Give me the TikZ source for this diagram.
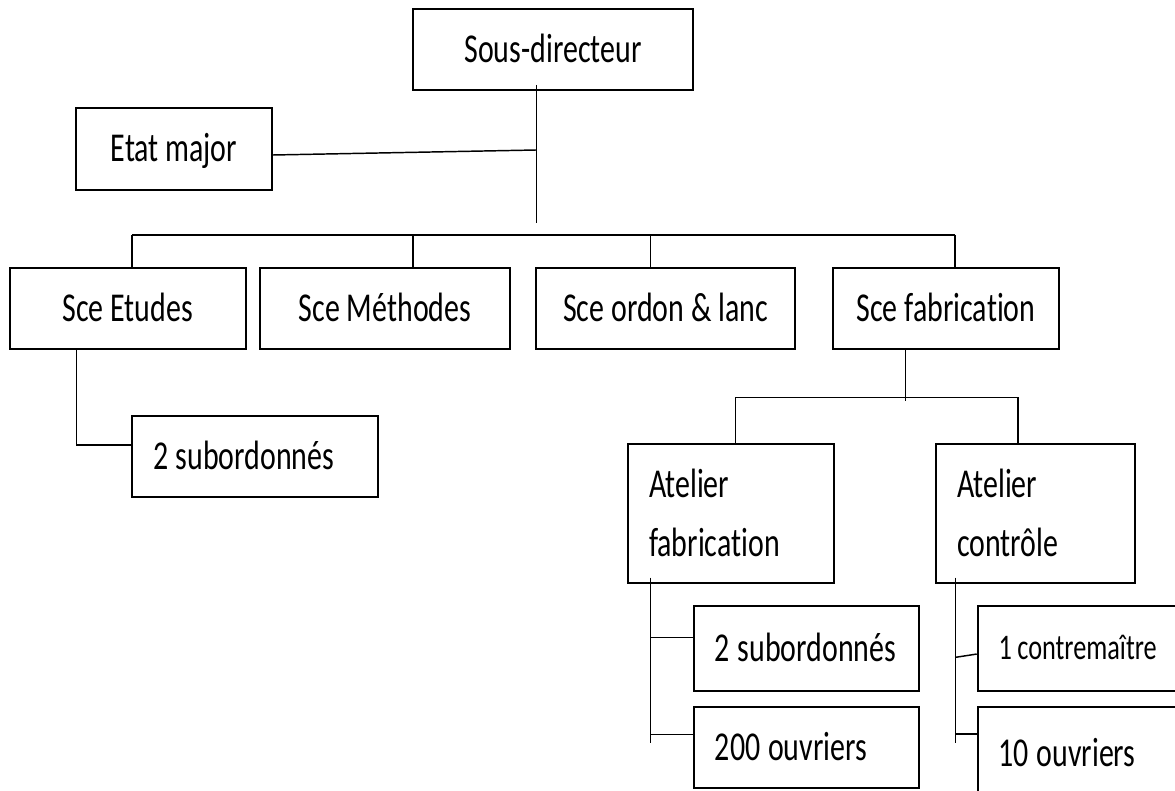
\documentclass[tikz,border=0pt]{standalone}
\usepackage{fontspec}
\setmainfont{Carlito}[FakeStretch=0.73, Ligatures=NoCommon]
\usetikzlibrary{calc}
% tighter gap after a leading figure (the font's figures are tabular)
\newcommand{\figgap}{\hspace{-4.5pt} }
\begin{document}
\begin{tikzpicture}[x=0.75pt,y=-0.75pt,
  unit/.style={draw=black, line width=1.5pt, inner sep=0pt,
    font=\fontsize{30.75}{44.25}\selectfont},
  sz/.style 2 args={minimum width=#1*0.75pt, minimum height=#2*0.75pt},
  onerow/.style={unit, text height=19.5pt, text depth=0pt},
  cbox/.style 2 args={onerow, sz={#1}{#2}, align=center},
  lbox/.style n args={3}{onerow, sz={#1}{#2}, text width=#3, inner xsep=15.75pt, align=left},
  tbox/.style n args={3}{unit, sz={#1}{#2}, text width=#3, inner xsep=15.75pt, align=left},
  small/.style={font=\fontsize{27}{32}\selectfont, text height=17pt},
  link/.style={draw=black, line width=1.1pt},
  deep/.style={shorten <=-4.5pt}
]
\useasboundingbox (0,0) rectangle (1175,791);
\fill[white] (0,0) rectangle (1175,791);
\clip (0,0) rectangle (1175,791);

% top of the chart
\node[cbox={280}{81}] (sd) at (553,49.5) {Sous-directeur};
\node[cbox={196}{82}] (em) at (174,149) {Etat major};

% services
\node[cbox={236.4}{81}] (se) at (127.8,308.5) {Sce Etudes};
\node[cbox={250}{81}]   (sm) at (385,308.5)   {Sce Méthodes};
\node[cbox={259}{81}]   (so) at (665.5,308.5) {Sce ordon \& lanc};
\node[cbox={226}{81}]   (sf) at (946,308.5)   {Sce fabrication};

\node[lbox={246}{81}{153pt}] (sub1) at (255,456.5) {\mbox{2\figgap subordonnés}};

% workshops
\node[tbox={205.5}{138.7}{122.6pt}] (af) at (730.75,513.35) {Atelier\\fabrication};
\node[tbox={199}{138.7}{117.75pt}]  (ac) at (1035.5,513.35) {Atelier\\contrôle};

\node[lbox={224.5}{85.3}{136.9pt}] (sub2)   at (806.25,648.35) {\mbox{2\figgap subordonnés}};
\node[lbox={224.5}{81.3}{136.9pt}] (ouv200) at (806.25,747.35) {\mbox{200\figgap ouvriers}};
\node[lbox={260}{85.3}{163.5pt}, small] (contre) at (1107.7,648.35) {\mbox{1\hspace{-5pt} contremaître}};
\node[lbox={260}{93.3}{163.5pt}] (ouv10)  at (1107.7,753.35) {\mbox{10\figgap ouvriers}};

% junction points
\coordinate (trunkEnd) at (536.5,223);
\coordinate (emJoin)   at (536.5,150);
\coordinate (busL) at (132,235);
\coordinate (busM) at (413,235);
\coordinate (busO) at (650.4,235);
\coordinate (busR) at (955,235);
\coordinate (etElbow) at (76.5,445);
\coordinate (sfEnd) at (905.6,400.7);
\coordinate (b2L) at (735.6,397.7);
\coordinate (b2R) at (1018,397.7);
\coordinate (afEnd) at (650.6,742.7);
\coordinate (afA) at (650.6,637.7);
\coordinate (afB) at (650.6,734.3);
\coordinate (acEnd) at (955.7,742.7);
\coordinate (acA) at (955.7,657.3);
\coordinate (acB) at (955.7,734);

% connectors
\draw[link, deep] (sd.south -| trunkEnd) -- (trunkEnd);
\draw[link] ($(em.east)+(0,6)$) -- (emJoin);
\draw[link] (busL) -- (busR);
\draw[link] (busL) -- (busL |- se.north);
\draw[link] (busM) -- (busM |- sm.north);
\draw[link] (busO) -- (busO |- so.north);
\draw[link] (busR) -- (busR |- sf.north);
\draw[link] (se.south -| etElbow) -- (etElbow) -- (etElbow -| sub1.west);
\draw[link] (sf.south -| sfEnd) -- (sfEnd);
\draw[link] (b2L |- af.north) -- (b2L) -- (b2R) -- (b2R |- ac.north);
\draw[link, deep] (af.south -| afEnd) -- (afEnd);
\draw[link] (afA) -- (afA -| sub2.west);
\draw[link] (afB) -- (afB -| ouv200.west);
\draw[link, deep] (ac.south -| acEnd) -- (acEnd);
\draw[link] (acA) -- ($(contre.west)+(0,5.7)$);
\draw[link] (acB) -- (acB -| ouv10.west);
\end{tikzpicture}
\end{document}
